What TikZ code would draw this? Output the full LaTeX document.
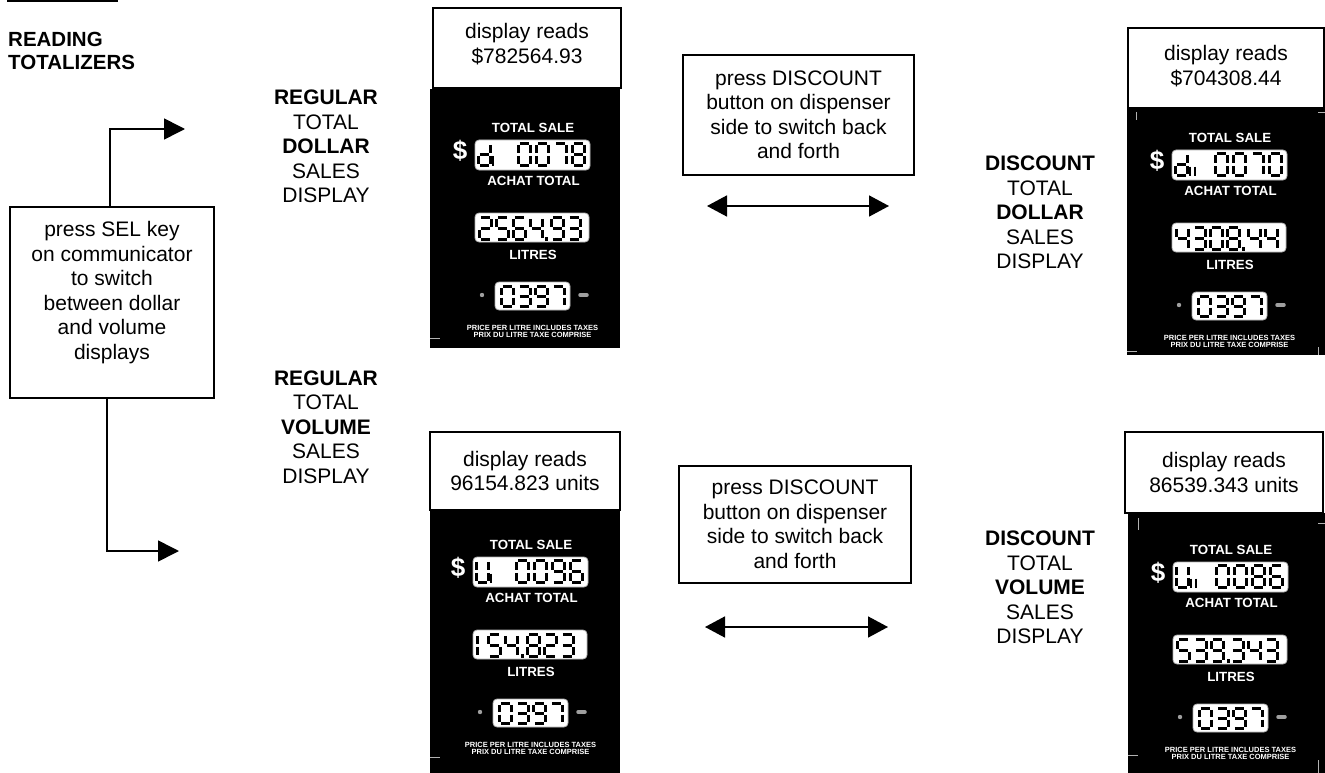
\documentclass[tikz,border=0pt]{standalone}
\usepackage{fontspec}
\setmainfont{Liberation Sans}
\usetikzlibrary{arrows.meta}
\tikzset{
 lbl/.style={font=\fontsize{21}{24.5}\selectfont, align=center, inner sep=0pt},
 box/.style={draw, fill=white, line width=1.6pt, align=center, font=\fontsize{21}{24.5}\selectfont, inner sep=0pt},
 conn/.style={line width=1.6pt},
 tip/.style={-{Triangle[length=21pt,width=21pt]}},
 dtip/.style={{Triangle[length=20pt,width=21pt]}-{Triangle[length=20pt,width=21pt]}},
 seg/.style={line width=3pt, line cap=butt},
 lcd/.style={fill=white, draw=gray!60, line width=0.8pt, rounded corners=4pt},
 wt/.style={text=white, font=\bfseries\fontsize{13.3}{14}\selectfont, inner sep=0pt},
 dollar/.style={text=white, font=\bfseries\fontsize{26}{26}\selectfont, inner sep=0pt},
 fine/.style={text=white, font=\bfseries\fontsize{7.5}{7}\selectfont, align=center, inner sep=0pt},
 crop/.style={draw=gray!60, line width=0.7pt},
}
\def\sw{12}\def\sh{22}\def\gp{1.3}
\expandafter\def\csname sgXa\endcsname{\draw[seg] (\gp,0) -- (\sw-\gp,0);}
\expandafter\def\csname sgXb\endcsname{\draw[seg] (\sw,\gp) -- (\sw,\sh/2-\gp);}
\expandafter\def\csname sgXc\endcsname{\draw[seg] (\sw,\sh/2+\gp) -- (\sw,\sh-\gp);}
\expandafter\def\csname sgXd\endcsname{\draw[seg] (\gp,\sh) -- (\sw-\gp,\sh);}
\expandafter\def\csname sgXe\endcsname{\draw[seg] (0,\sh/2+\gp) -- (0,\sh-\gp);}
\expandafter\def\csname sgXf\endcsname{\draw[seg] (0,\gp) -- (0,\sh/2-\gp);}
\expandafter\def\csname sgXg\endcsname{\draw[seg] (\gp,\sh/2) -- (\sw-\gp,\sh/2);}
\newcommand\dg[3]{\begin{scope}[shift={(#1,#2)}]\foreach \s in #3 {\csname sgX\s\endcsname}\end{scope}}
\def\dZero{a,b,c,d,e,f}
\def\dOneL{e,f}
\def\dTwo{a,b,g,e,d}
\def\dThree{a,b,g,c,d}
\def\dFour{f,g,b,c}
\def\dFive{a,f,g,c,d}
\def\dSix{a,f,g,e,c,d}
\def\dSeven{a,b,c}
\def\dEight{a,b,c,d,e,f,g}
\def\dNine{a,b,c,d,f,g}
\def\dLd{b,c,d,e,g}
\def\dU{b,c,d,e,f}
\newcommand\dbar[2]{\draw[seg,line width=2.4pt] (#1,#2+13) -- (#1,#2+22);}
\newcommand\dpnt[2]{\fill (#1,#2+19.5) rectangle (#1+3.2,#2+23.3);}
\newcommand\dn[1]{\rule[-#1]{0pt}{#1}}
\newcommand\panelcommon[1]{%
 \node[wt] (#1ts) at (533,128) {TOTAL SALE};
 \node[dollar] (#1dl) at (460,151) {\$};
 \draw[lcd] (475,140) rectangle (590,170);
 \node[wt] (#1at) at (533.5,181) {ACHAT TOTAL};
 \draw[lcd] (475,213) rectangle (589,242);
 \node[wt] (#1lt) at (533,254.5) {LITRES};
 \fill[gray!75] (482,295) circle (2.2pt);
 \draw[lcd] (495,282) rectangle (570,310);
 \draw[gray!75,line width=3.5pt,line cap=round] (580,295) -- (587,295);
 \node[fine] (#1pr) at (532.5,331.5) {PRICE PER LITRE INCLUDES TAXES\\PRIX DU LITRE TAXE COMPRISE};
 \def\sh{19.5}\dg{501.5}{286.5}\dZero \dg{518.5}{286.5}\dThree \dg{535.5}{286.5}\dNine \dg{552.5}{286.5}\dSeven
 \def\sh{22}%
}
\begin{document}
\begin{tikzpicture}[x=1pt,y=-1pt]
\useasboundingbox (0,0) rectangle (1325,773);
% header
\fill (7,0) rectangle (118,2.5);
\node[lbl, align=left, anchor=north west, font=\bfseries\fontsize{20.5}{23}\selectfont] (title) at (8,31.5) {READING\\TOTALIZERS};
% left box and arrows
\node[box, minimum width=204pt, minimum height=191pt] (sel) at (112,302.5) {press SEL key\\on communicator\\to switch\\between dollar\\and volume\\displays\dn{24pt}};
\coordinate (ta) at (185,129);
\coordinate (ba) at (179,551);
\draw[conn,tip] ([xshift=-2pt]sel.north) |- (ta);
\draw[conn,tip] ([xshift=-5pt]sel.south) |- (ba);
% side labels
\node[lbl] (rd) at (326,146.5) {\textbf{REGULAR}\\TOTAL\\\textbf{DOLLAR}\\SALES\\DISPLAY};
\node[lbl] (rv) at (326,427) {\textbf{REGULAR}\\TOTAL\\\textbf{VOLUME}\\SALES\\DISPLAY};
\node[lbl] (dd) at (1040,212.5) {\textbf{DISCOUNT}\\TOTAL\\\textbf{DOLLAR}\\SALES\\DISPLAY};
\node[lbl] (dv) at (1040,587.5) {\textbf{DISCOUNT}\\TOTAL\\\textbf{VOLUME}\\SALES\\DISPLAY};
% discount boxes and arrows
\node[box, minimum width=231pt, minimum height=120pt] (disc1) at (798.5,115) {press DISCOUNT\\button on dispenser\\side to switch back\\and forth};
\node[box, minimum width=232pt, minimum height=117pt] (disc2) at (795,524.5) {press DISCOUNT\\button on dispenser\\side to switch back\\and forth};
\coordinate (d1l) at (707,206);
\coordinate (d1r) at (889,206);
\coordinate (d2l) at (705,627);
\coordinate (d2r) at (888,627);
\draw[conn,dtip] (d1l) -- (d1r);
\draw[conn,dtip] (d2l) -- (d2r);
% black panels
\fill (430,89) rectangle (620,348);
\fill (1127,108) rectangle (1325,355);
\fill (430,510) rectangle (620,773);
\fill (1128,513) rectangle (1325,773);
% crop marks
\draw[crop] (430,338) -- (440,338);
\draw[crop] (1136,112) -- (1136,120);
\draw[crop] (1318,112) -- (1325,112);
\draw[crop] (1127,351) -- (1137,351);
\draw[crop] (1318,347) -- (1318,355);
\draw[crop] (430,757) -- (440,757);
\draw[crop] (1138,518) -- (1138,530);
\draw[crop] (1318,523) -- (1325,523);
\draw[crop] (1128,755) -- (1138,755);
\draw[crop] (1318,760) -- (1318,773);
% panel A
\node[box, minimum width=188pt, minimum height=80pt] (ra) at (527,48) {display reads\\\$782564.93\dn{9pt}};
\begin{scope}
 \panelcommon{A}
 \dg{478.5}{143.5}\dLd \dbar{493}{143.5}
 \dg{518.5}{143.5}\dZero \dg{536.5}{143.5}\dZero \dg{554.5}{143.5}\dSeven \dg{572.5}{143.5}\dEight
 \dg{479.5}{217.5}\dTwo \dg{496.5}{217.5}\dFive \dg{513.5}{217.5}\dSix \dg{530.5}{217.5}\dFour \dpnt{545}{217.5}
 \dg{551.5}{217.5}\dNine \dg{568.5}{217.5}\dThree
\end{scope}
% panel B
\node[box, minimum width=196pt, minimum height=80pt] (rb) at (1226,68) {display reads\\\$704308.44\dn{5pt}};
\begin{scope}[shift={(697,10)}]
 \panelcommon{B}
 \dg{478.5}{143.5}\dLd \dbar{493}{143.5} \dbar{498}{143.5}
 \dg{518.5}{143.5}\dZero \dg{536.5}{143.5}\dZero \dg{554.5}{143.5}\dSeven \dg{572.5}{143.5}\dZero
 \dg{479.5}{217.5}\dFour \dg{496.5}{217.5}\dThree \dg{513.5}{217.5}\dZero \dg{530.5}{217.5}\dEight \dpnt{545}{217.5}
 \dg{551.5}{217.5}\dFour \dg{568.5}{217.5}\dFour
\end{scope}
% panel C
\node[box, minimum width=190pt, minimum height=78pt] (rc) at (525,471) {display reads\\96154.823 units};
\begin{scope}[shift={(-2,417)}]
 \panelcommon{C}
 \dg{478.5}{143.5}\dU \dbar{493}{143.5}
 \dg{518.5}{143.5}\dZero \dg{536.5}{143.5}\dZero \dg{554.5}{143.5}\dNine \dg{572.5}{143.5}\dSix
 \dg{479.5}{217.5}\dOneL \dg{490.5}{217.5}\dFive \dg{507.5}{217.5}\dFour \dpnt{523}{217.5}
 \dg{529.5}{217.5}\dEight \dg{546.5}{217.5}\dTwo \dg{563.5}{217.5}\dThree
\end{scope}
% panel D
\node[box, minimum width=198pt, minimum height=81pt] (rdd) at (1224,472.5) {display reads\\86539.343 units};
\begin{scope}[shift={(698,422)}]
 \panelcommon{D}
 \dg{478.5}{143.5}\dU \dbar{493}{143.5} \dbar{498}{143.5}
 \dg{518.5}{143.5}\dZero \dg{536.5}{143.5}\dZero \dg{554.5}{143.5}\dEight \dg{572.5}{143.5}\dSix
 \dg{479.5}{217.5}\dFive \dg{496.5}{217.5}\dThree \dg{513.5}{217.5}\dNine \dpnt{528.5}{217.5}
 \dg{533.5}{217.5}\dThree \dg{550.5}{217.5}\dFour \dg{567.5}{217.5}\dThree
\end{scope}
\end{tikzpicture}
\end{document}
